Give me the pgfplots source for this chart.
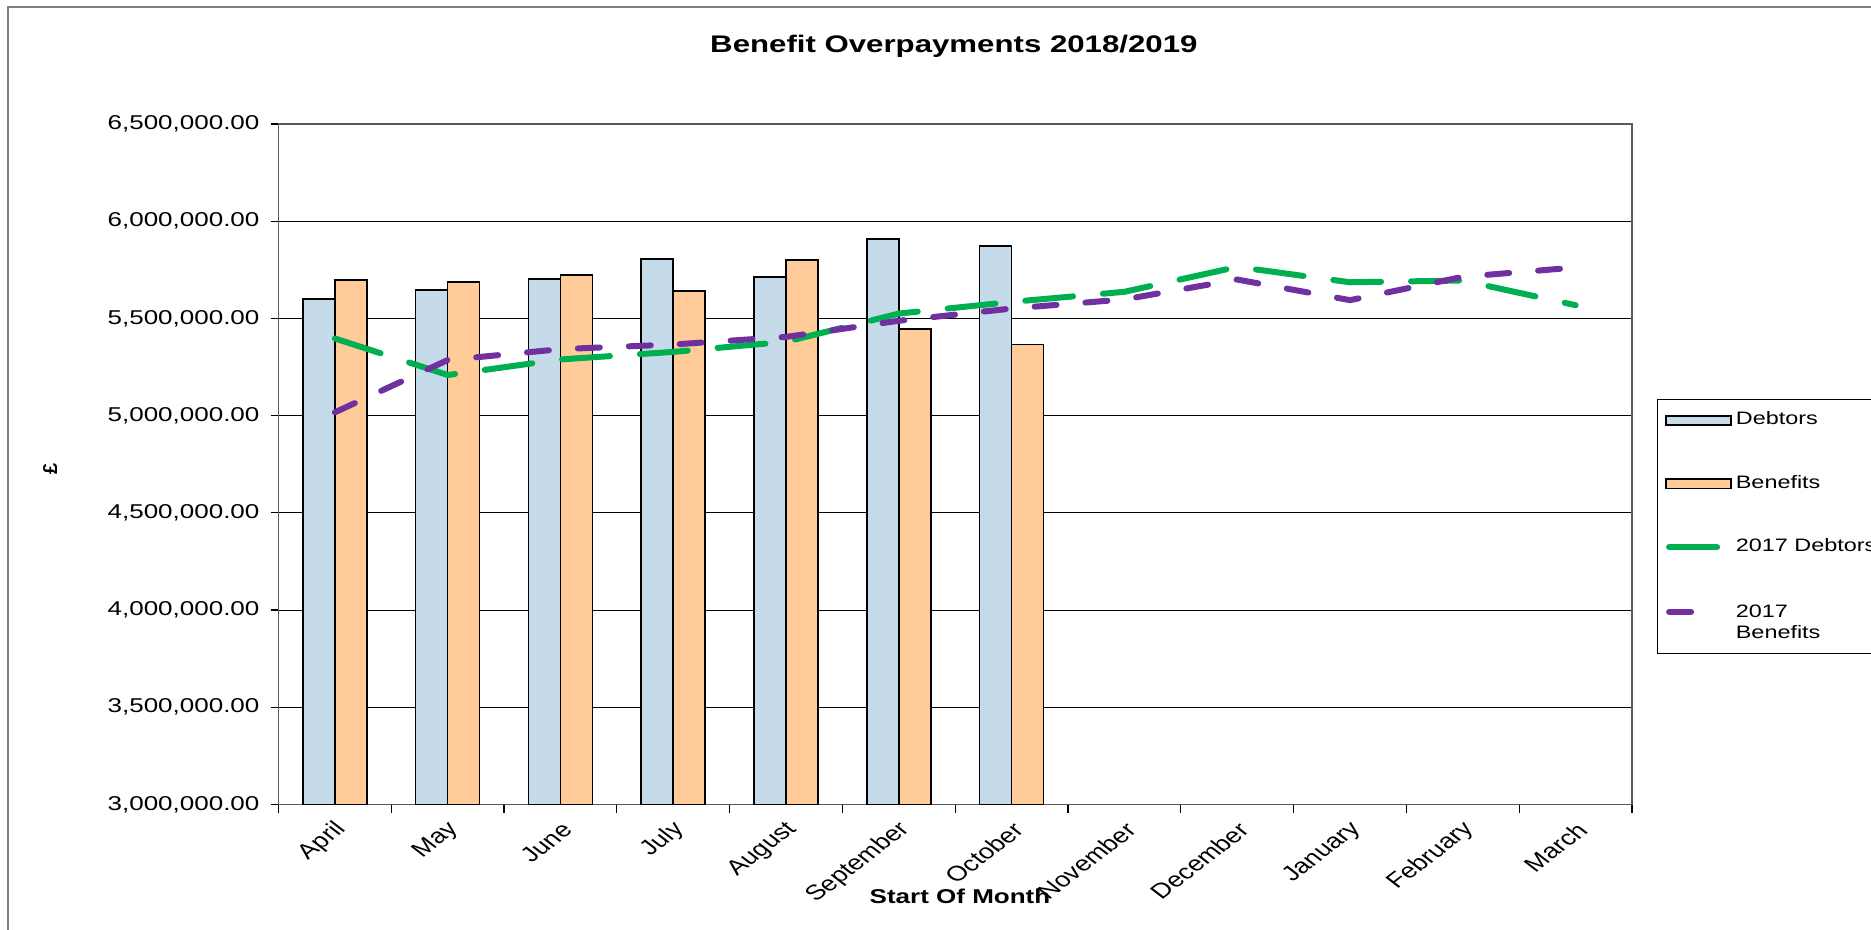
\documentclass[border=0pt]{standalone}
\usepackage{pgfplots}
\pgfplotsset{compat=1.18}
\usepackage{fontspec}
\setmainfont{Liberation Sans}
\usepackage{graphicx}
\definecolor{debt}{HTML}{C6DBEA}
\definecolor{bene}{HTML}{FFCC99}
\definecolor{gline}{HTML}{00B050}
\definecolor{pline}{HTML}{7030A0}
\newcommand{\sx}[1]{\scalebox{1.3}[1]{#1}}
\begin{document}
\begin{tikzpicture}
\useasboundingbox (0pt,0pt) rectangle (935.5pt,-465pt);
\fill[white] (0pt,0pt) rectangle (935.5pt,-465pt);
\draw[color=gray, line width=1pt] (3.8pt,-3.4pt) rectangle (1000pt,-600pt);
\begin{axis}[
  at={(139.25pt,-402.25pt)}, anchor=south west,
  scale only axis, width=676.75pt, height=340.25pt,
  xmin=-0.5, xmax=11.5, ymin=3000000, ymax=6500000,
  /pgf/number format/assume math mode=true,
  xtick={0,...,11},
  xticklabels={April,May,June,July,August,September,October,November,December,January,February,March},
  minor xtick={-0.5,0.5,...,11.5},
  ytick={3000000,3500000,4000000,4500000,5000000,5500000,6000000,6500000},
  scaled y ticks=false,
  yticklabel={\sx{\pgfmathprintnumber[fixed,fixed zerofill,precision=2,1000 sep={,}]{\tick}}},
  tick align=outside, xtick pos=bottom, ytick pos=left,
  major tick length=4pt, minor tick length=4pt,
  major x tick style={draw=none},
  minor x tick style={black, line width=0.6pt},
  major y tick style={black, line width=0.6pt},
  ymajorgrids=true,
  major grid style={black, line width=0.5pt},
  axis line style={draw=gray!70!black, line width=0.7pt},
  yticklabel style={font=\fontsize{10}{12}\selectfont, anchor=east, xshift=-2pt},
  xticklabel style={font=\fontsize{10.5}{12.6}\selectfont, anchor=east, xshift=6.5pt, yshift=-4.5pt, xscale=1.3, rotate=45},
  title={\sx{Benefit Overpayments 2018/2019}},
  title style={font=\bfseries\fontsize{12}{14}\selectfont, at={(0.499,1.097)}, anchor=center},
  xlabel={\sx{Start Of Month}},
  xlabel style={font=\bfseries\fontsize{10}{12}\selectfont, at={(0.5035,-0.1345)}, anchor=center},
  ylabel={\textbf{£}},
  ylabel style={font=\fontsize{10}{12}\selectfont, at={(-0.1688,0.493)}, anchor=center},
  legend style={at={(1.0183,0.5959)}, anchor=north west, draw=black, line width=0.5pt,
    fill=white, font=\fontsize{9}{10.8}\selectfont, inner xsep=4pt, inner ysep=4.2pt,
    row sep=9.1pt, legend cell align=left, nodes={text depth=12.1pt},
    /tikz/every even column/.append style={column sep=2pt}},
]
\addplot[ybar, bar width=16pt, bar shift=-8pt, fill=debt, draw=black, line width=0.8pt, forget plot]
  coordinates {(0,5599000) (1,5647000) (2,5704000) (3,5805000) (4,5712000) (5,5907000) (6,5873000)};
\addplot[ybar, bar width=16pt, bar shift=8pt, fill=bene, draw=black, line width=0.8pt, forget plot]
  coordinates {(0,5697000) (1,5688000) (2,5722000) (3,5642000) (4,5800000) (5,5445000) (6,5366000)};
\addlegendimage{legend image code/.code={\draw[fill=debt, draw=black, line width=0.8pt] (0pt,2.8pt) rectangle (32.5pt,7.4pt);}}
\addlegendentry{\sx{Debtors}}
\addlegendimage{legend image code/.code={\draw[fill=bene, draw=black, line width=0.8pt] (0pt,2.8pt) rectangle (32.5pt,7.4pt);}}
\addlegendentry{\sx{Benefits}}
\addplot[gline, line width=3pt, line cap=round, dash pattern=on 24pt off 15pt, mark=none,
  legend image code/.code={\draw[gline, line width=3pt, line cap=round, dash pattern=on 24pt off 15pt] (1.5pt,5.1pt) -- (26pt,5.1pt);}]
  coordinates {(0,5397000) (1,5209000) (2,5289000) (3,5328000) (4,5380000) (5,5525000)
    (6,5585000) (7,5637000) (8,5765000) (9,5686000) (10,5695000) (11,5568000)};
\addlegendentry{\sx{2017 Debtors}}
\addplot[pline, line width=3pt, line cap=round, dash pattern=on 11pt off 14.5pt, mark=none,
  legend image code/.code={\draw[pline, line width=3pt, line cap=round, dash pattern=on 11pt off 14.5pt] (1.5pt,5.1pt) -- (27pt,5.1pt);}]
  coordinates {(0,5017000) (1,5286000) (2,5342000) (3,5366000) (4,5405000) (5,5488000)
    (6,5551000) (7,5598000) (8,5700000) (9,5594000) (10,5714000) (11,5762000)};
\addlegendentry{\begin{tabular}[t]{@{}l@{}}\sx{2017}\\\sx{Benefits}\end{tabular}}
\end{axis}
\end{tikzpicture}
\end{document}
